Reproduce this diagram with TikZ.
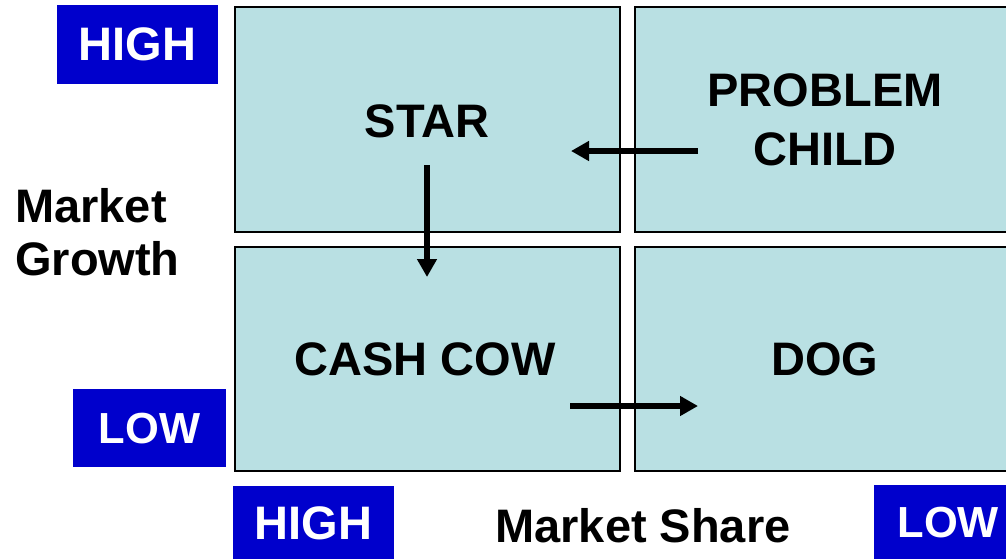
\documentclass[tikz,border=0pt]{standalone}
\usepackage{fontspec}
\setmainfont{Liberation Sans}
\usetikzlibrary{arrows.meta}
\definecolor{cell}{RGB}{185,224,227}
\definecolor{tagblue}{RGB}{0,0,204}

\begin{document}
\begin{tikzpicture}[x=1pt,y=-1pt,
  cellbox/.style={draw=black, line width=2pt, fill=cell, inner sep=0pt,
    minimum width=385pt, minimum height=225pt, anchor=north west},
  tag/.style={fill=tagblue, text=white, inner sep=0pt, anchor=north west,
    font=\fontsize{47}{56}\selectfont\bfseries},
  lowtag/.style={tag, font=\fontsize{43.5}{52}\selectfont\bfseries},
  lbl/.style={inner sep=0pt, font=\fontsize{47}{56}\selectfont\bfseries},
  flow/.style={line width=5.5pt, -{Triangle[length=18pt,width=19pt]}}]
\useasboundingbox (0,0) rectangle (1006,558);

% the four quadrants
\node[cellbox] (star) at (234,6) {};
\node[cellbox, minimum width=400pt] (problem) at (634,6) {};
\node[cellbox, minimum height=224pt] (cow) at (234,246) {};
\node[cellbox, minimum width=400pt, minimum height=224pt] (dog) at (634,246) {};

% quadrant names
\node[lbl, anchor=base] (tstar) at (427,137) {STAR};
\node[lbl, anchor=base] (tprob) at (825,106) {PROBLEM};
\node[lbl, anchor=base] (tchild) at (825,165) {CHILD};
\node[lbl, anchor=base] (tcow) at (425,375) {CASH COW};
\node[lbl, anchor=base] (tdog) at (825,375) {DOG};

% axis titles
\node[lbl, anchor=base west] (mg1) at (15,222) {Market};
\node[lbl, anchor=base west] (mg2) at (15,275) {Growth};
\node[lbl, anchor=base] (ms) at (643,542) {Market Share};

% scale tags
\node[tag, minimum width=161pt, minimum height=79pt] (ghigh) at (57,5) {HIGH};
\node[lowtag, minimum width=153pt, minimum height=78pt] (glow) at (73,389) {LOW};
\node[tag, minimum width=161pt, minimum height=75pt] (shigh) at (233,486) {HIGH};
\node[lowtag, minimum width=148pt, minimum height=75pt] (slow) at (874,485) {LOW};

% movement between quadrants
\coordinate (p1) at (698,151);
\coordinate (p2) at (571,151);
\coordinate (s1) at (427,165);
\coordinate (s2) at (427,277);
\coordinate (c1) at (570,406);
\coordinate (c2) at (698,406);
\draw[flow] (p1) -- (p2);
\draw[flow] (s1) -- (s2);
\draw[flow] (c1) -- (c2);
\end{tikzpicture}
\end{document}
